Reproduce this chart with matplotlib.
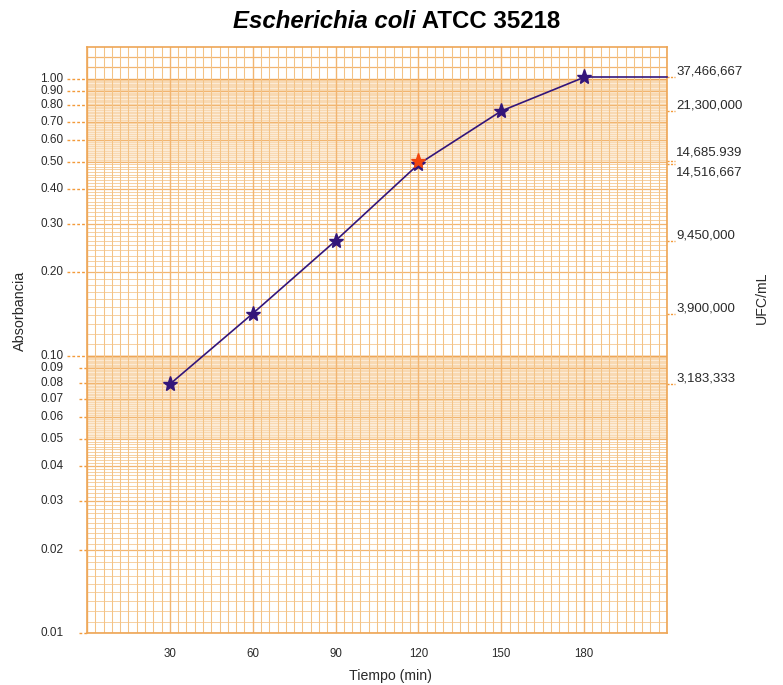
import numpy as np
import matplotlib
matplotlib.use("Agg")
import matplotlib.pyplot as plt
import matplotlib.transforms as mtransforms

plt.rcParams['font.family'] = ['Liberation Sans', 'DejaVu Sans']

#### Datos ####

tiempo = [30, 60, 90, 120, 150, 180]
absorbancia = [0.079, 0.142, 0.26, 0.491, 0.764, 1.011]
punto_rojo = (120, 0.506)

ufc_labels = ["37,466,667", "21,300,000", "14,685.939", "14,516,667",
              "9,450,000", "3,900,000", "3,183,333"]
ufc_abs = [1.011, 0.764, 0.506, 0.491, 0.26, 0.142, 0.079]
ufc_dy = [4, 4, 6, -6, 4, 4, 4]  # decalage du texte en points

yticks_hi = [0.10, 0.20, 0.30, 0.40, 0.50, 0.60, 0.70, 0.80, 0.90, 1.00]
yticks_lo = [0.01, 0.02, 0.03, 0.04, 0.05, 0.06, 0.07, 0.08, 0.09]
xticks = [30, 60, 90, 120, 150, 180]

x_min, x_max = 0, 210
y_min, y_max = 0.01, 1.3

#### Couleurs ####
c_fin = '#f4c489'
c_dense = '#f6cc98'
c_moy = '#f2b570'
c_vert = '#f4c385'
c_fort = '#eea656'
c_ligne = '#33157a'
c_rouge = '#f2460e'
c_tick = '#f39a3a'
c_txt = '#2a2a2a'

W, H = 783, 685
fig = plt.figure(figsize=(W / 100, H / 100), dpi=100)
ax = fig.add_axes([87 / W, 52 / H, 580 / W, 586 / H])
ax.set_yscale('log')
ax.set_xlim(x_min, x_max)
ax.set_ylim(y_min, y_max)

# papier semi-log : fond teinte
ax.axhspan(0.05, 0.1, color='#fcebd5', lw=0, zorder=0)
ax.axhspan(0.5, 1.0, color='#fcebd5', lw=0, zorder=0)

def hligne(v, pas_maj, dense):
    if abs(v / pas_maj - round(v / pas_maj)) < 1e-6:
        ax.axhline(v, color=c_moy, lw=0.9, zorder=1)
    elif dense:
        ax.axhline(v, color=c_dense, lw=0.4, zorder=1)
    else:
        ax.axhline(v, color=c_fin, lw=0.55, zorder=1)

# lignes horizontales
lo = np.round(np.arange(0.010, 0.1, 0.001), 4)
hi = np.round(np.arange(0.10, 1.0, 0.01), 3)
for v in lo:
    hligne(v, 0.01, v > 0.0495)
for v in hi:
    hligne(v, 0.1, v > 0.495)
for v in [1.1, 1.2]:
    ax.axhline(v, color=c_moy, lw=0.9, zorder=1)
for v in [0.01, 0.1, 1.0]:
    ax.axhline(v, color=c_fort, lw=1.0, zorder=1)

# lignes verticales
for v in np.arange(x_min, x_max + 1, 3):
    if v % 30 == 0:
        ax.axvline(v, color=c_moy, lw=1.0, zorder=1.5)
    else:
        ax.axvline(v, color=c_vert, lw=0.75, zorder=1.5)

for s in ax.spines.values():
    s.set_color(c_fort)
    s.set_linewidth(1.2)

# courbe
ax.plot(tiempo, absorbancia, color=c_ligne, lw=1.2, zorder=3)
ax.plot([tiempo[-1], x_max], [absorbancia[-1], absorbancia[-1]],
        color=c_ligne, lw=1.2, zorder=3, clip_on=False)
ax.plot(tiempo, absorbancia, ls='none', marker='*', ms=11,
        color=c_ligne, zorder=4)
ax.plot([punto_rojo[0]], [punto_rojo[1]], ls='none', marker='*', ms=11,
        color=c_rouge, zorder=5)

# axes : ticks faits a la main
ax.set_xticks([])
ax.set_yticks([])
ax.minorticks_off()
trans = mtransforms.blended_transform_factory(ax.transAxes, ax.transData)
for v in yticks_hi:
    ax.plot([-0.034, 0], [v, v], transform=trans, color=c_tick, lw=1.0,
            ls=(0, (2, 1.5)), clip_on=False)
    ax.text(-0.041, v, "%.2f" % v, transform=trans, ha='right',
            va='center', fontsize=8.5, color=c_txt)
for v in yticks_lo:
    ax.plot([-0.014, 0], [v, v], transform=trans, color=c_tick, lw=1.0,
            ls=(0, (2, 1.5)), clip_on=False)
    ax.text(-0.041, v, "%.2f" % v, transform=trans, ha='right',
            va='center', fontsize=8.5, color=c_txt)

for lab, v, dy in zip(ufc_labels, ufc_abs, ufc_dy):
    ax.plot([1.0, 1.013], [v, v], transform=trans, color=c_tick, lw=1.0,
            ls=(0, (1.5, 1)), clip_on=False)
    ax.annotate(lab, xy=(1.016, v), xycoords=trans, xytext=(0, dy),
                textcoords='offset points', ha='left', va='center',
                fontsize=9.5, color=c_txt, annotation_clip=False)

for v in xticks:
    ax.annotate(str(v), xy=(v, 0), xycoords=('data', 'axes fraction'),
                xytext=(0, -15), textcoords='offset points', ha='center',
                va='center', fontsize=8.3, color=c_txt)

fig.text(390 / W, 1 - 676 / H, "Tiempo (min)", ha='center', va='center',
         fontsize=10.2, color=c_txt)
fig.text(20 / W, 1 - 311 / H, "Absorbancia", rotation=90, ha='center',
         va='center', fontsize=10.4, color=c_txt)
fig.text(762 / W, 1 - 298 / H, "UFC/mL", rotation=90, ha='center',
         va='center', fontsize=10.2, color=c_txt)

# titre : partie italique + partie droite
t1 = fig.text(233 / W, 1 - 22 / H, "Escherichia coli", ha='left',
              va='center', fontsize=17.3, fontweight='bold', style='italic')
ax.annotate(" ATCC 35218", xy=(1, 0.5), xycoords=t1, ha='left',
            va='center', fontsize=17.3, fontweight='bold',
            annotation_clip=False)

fig.savefig("out.png", dpi=100)
